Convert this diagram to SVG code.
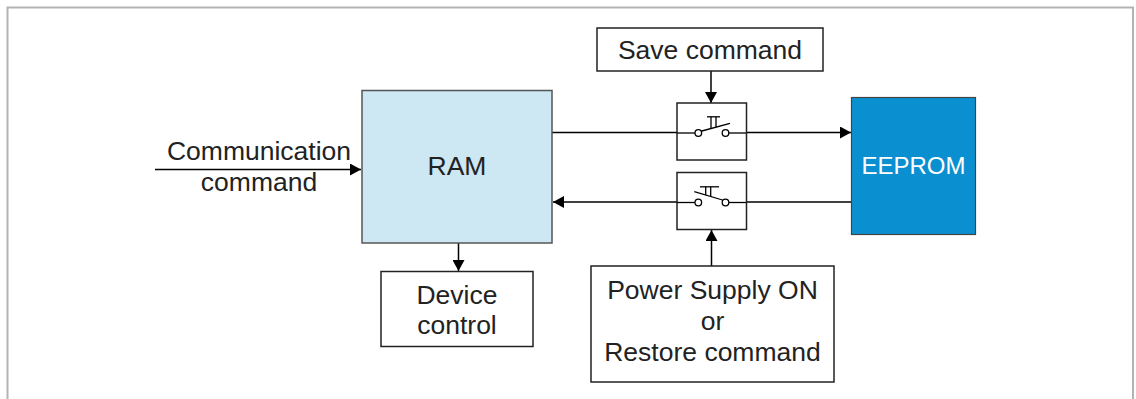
<svg xmlns="http://www.w3.org/2000/svg" width="1136" height="399" viewBox="0 0 1136 399">
<defs>
<marker id="arr" markerWidth="12" markerHeight="12" refX="11" refY="6" orient="auto" markerUnits="userSpaceOnUse">
<path d="M0,0 L11,6 L0,12 Z" fill="#000"/>
</marker>
<style>
.box{fill:#fff;stroke:#222;stroke-width:1.5}
.t{font-family:"Liberation Sans",Arial,sans-serif;font-size:26.5px;fill:#222;text-anchor:middle}
.ln{stroke:#000;stroke-width:1.5;fill:none}
.sw{stroke:#000;stroke-width:1.3;fill:none}
.c{stroke:#000;stroke-width:1.3;fill:#fff}
</style>
</defs>
<rect width="1136" height="399" fill="#fff"/>
<path d="M7.5,399 V7.5 H1133 V399" fill="none" stroke="#b3b3b3" stroke-width="2"/>

<g id="connectors">
<line class="ln" x1="155" y1="169.5" x2="361" y2="169.5" marker-end="url(#arr)"/>
<line class="ln" x1="552" y1="132.5" x2="677" y2="132.5"/>
<line class="ln" x1="746" y1="132.5" x2="851" y2="132.5" marker-end="url(#arr)"/>
<line class="ln" x1="851" y1="202" x2="746" y2="202"/>
<line class="ln" x1="677" y1="202" x2="553" y2="202" marker-end="url(#arr)"/>
<line class="ln" x1="711" y1="71" x2="711" y2="103" marker-end="url(#arr)"/>
<line class="ln" x1="711.5" y1="266" x2="711.5" y2="230" marker-end="url(#arr)"/>
<line class="ln" x1="458.5" y1="243" x2="458.5" y2="271" marker-end="url(#arr)"/>
</g>

<g id="comm-label">
<text class="t" x="259" y="159.5">Communication</text>
<text class="t" x="259" y="191">command</text>
</g>

<g id="ram">
<rect x="362" y="90.5" width="190" height="152.5" fill="#cde7f3" stroke="#555" stroke-width="1.5"/>
<text class="t" x="457" y="174.5">RAM</text>
</g>

<g id="save">
<rect class="box" x="597" y="28" width="226" height="43"/>
<text class="t" x="710" y="59">Save command</text>
</g>

<g id="switch-save">
<rect class="box" x="677" y="103" width="69.5" height="57"/>
<line class="sw" x1="677" y1="133" x2="695" y2="133"/>
<line class="sw" x1="729" y1="133" x2="746" y2="133"/>
<line class="sw" x1="700" y1="131.5" x2="730" y2="123.3"/>
<line class="sw" x1="707" y1="116.8" x2="720" y2="116.8"/>
<line class="sw" x1="711" y1="116.8" x2="711" y2="128.7"/>
<line class="sw" x1="716" y1="116.8" x2="716" y2="127.3"/>
<circle class="c" cx="698.3" cy="133" r="3.3"/>
<circle class="c" cx="725.5" cy="133" r="3.3"/>
</g>

<g id="switch-restore">
<rect class="box" x="677" y="172.5" width="69.5" height="57"/>
<line class="sw" x1="677" y1="202.5" x2="695" y2="202.5"/>
<line class="sw" x1="729" y1="202.5" x2="746" y2="202.5"/>
<line class="sw" x1="694.3" y1="191.7" x2="722.5" y2="200"/>
<line class="sw" x1="700" y1="186.8" x2="719" y2="186.8"/>
<line class="sw" x1="705.7" y1="186.8" x2="705.7" y2="195"/>
<line class="sw" x1="710.7" y1="186.8" x2="710.7" y2="196.5"/>
<circle class="c" cx="698.3" cy="202.5" r="3.3"/>
<circle class="c" cx="725.5" cy="202.5" r="3.3"/>
</g>

<g id="eeprom">
<rect x="851.5" y="97.5" width="124" height="137" fill="#0a90d0" stroke="#444" stroke-width="1.2"/>
<text class="t" x="913.5" y="174" style="fill:#fff;font-size:24px">EEPROM</text>
</g>

<g id="device">
<rect class="box" x="381" y="271.5" width="152" height="75"/>
<text class="t" x="457" y="303.5">Device</text>
<text class="t" x="457" y="334">control</text>
</g>

<g id="power">
<rect class="box" x="591" y="266" width="243" height="116"/>
<text class="t" x="712.5" y="298.5">Power Supply ON</text>
<text class="t" x="712.5" y="329.5">or</text>
<text class="t" x="712.5" y="361">Restore command</text>
</g>
</svg>
